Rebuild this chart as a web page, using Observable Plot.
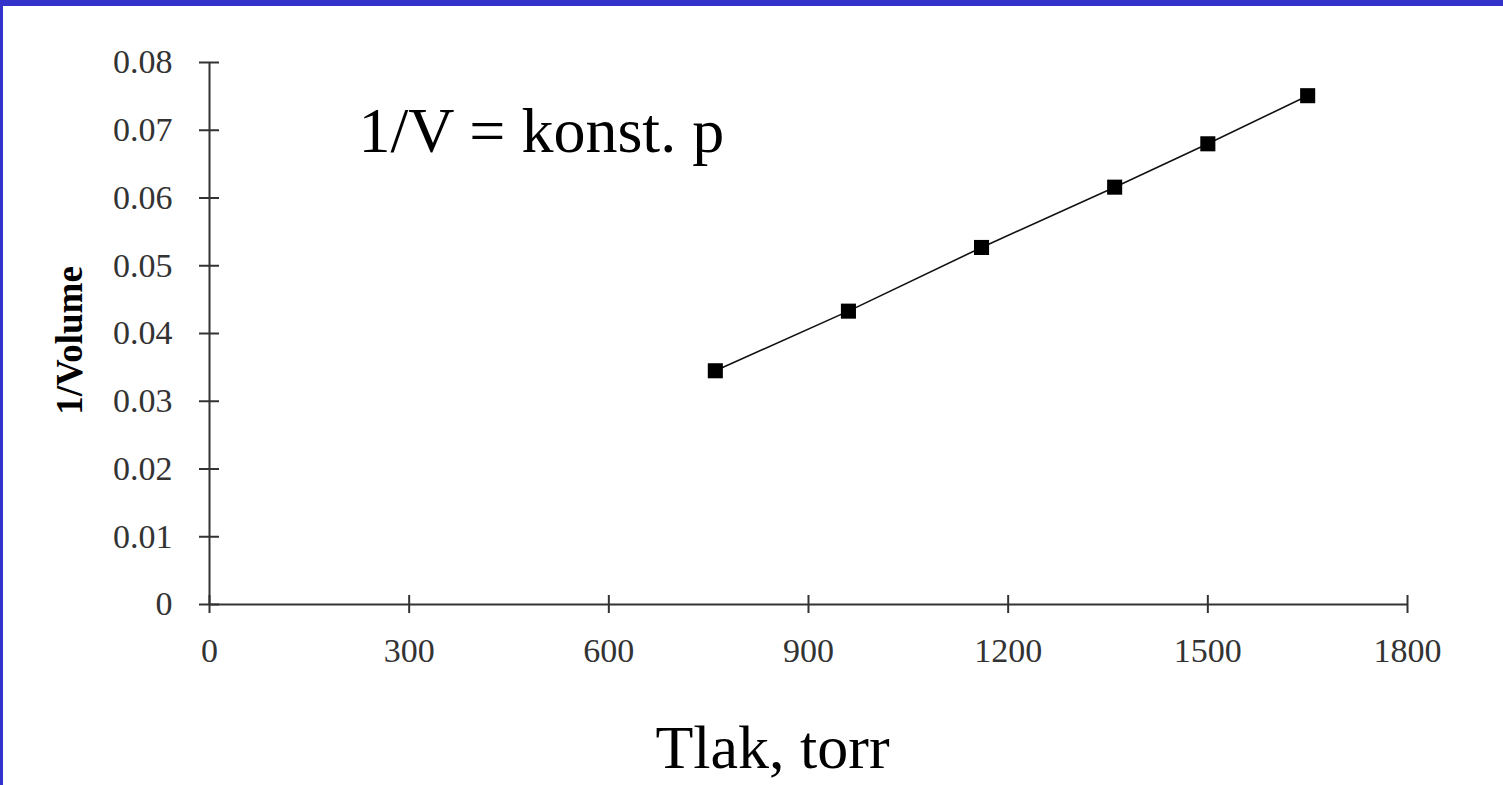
<!DOCTYPE html>
<html>
<head>
<meta charset="utf-8">
<script src="https://cdn.jsdelivr.net/npm/d3@7"></script>
<script src="https://cdn.jsdelivr.net/npm/@observablehq/plot@0.6"></script>
<style>
  html, body { margin: 0; padding: 0; background: #fff; }
  #wrap { position: relative; width: 1503px; height: 785px; overflow: hidden; }
  #topbar { position: absolute; left: 0; top: 0; width: 1503px; height: 6px; background: #3333CC; }
  #leftbar { position: absolute; left: 0; top: 0; width: 3px; height: 785px; background: #3333CC; }
  svg { display: block; }
</style>
</head>
<body>
<div id="wrap">
  <div id="chart"></div>
  <div id="topbar"></div>
  <div id="leftbar"></div>
</div>
<script>
// Data
const pressure = [760, 960, 1160, 1360, 1500, 1650];          // Tlak, torr
const invVolume = [0.0345, 0.0433, 0.0527, 0.0616, 0.0680, 0.0751]; // 1/Volume
const xTicks = [0, 300, 600, 900, 1200, 1500, 1800];
const yTicks = [0, 0.01, 0.02, 0.03, 0.04, 0.05, 0.06, 0.07, 0.08];
const titleText = "1/V = konst. p";
const xLabel = "Tlak, torr";
const yLabel = "1/Volume";

const points = pressure.map((p, i) => ({p, v: invVolume[i]}));
const axisColor = "#333";
const font = "'Liberation Serif', 'Times New Roman', serif";

const chart = Plot.plot({
  width: 1503,
  height: 785,
  marginLeft: 209,
  marginRight: 96,
  marginTop: 62,
  marginBottom: 181,
  style: {fontFamily: font, background: "transparent", overflow: "visible"},
  x: {domain: [0, 1800], axis: null},
  y: {domain: [0, 0.08], axis: null},
  marks: [
    // axis lines
    Plot.ruleY([0], {x1: 0, x2: 1800, stroke: axisColor, strokeWidth: 2}),
    Plot.ruleX([0], {y1: 0, y2: 0.08, stroke: axisColor, strokeWidth: 2}),
    // crossing ticks
    Plot.ruleX(xTicks, {x: d => d, y1: 0, y2: 0, insetTop: -9, insetBottom: -9, stroke: axisColor, strokeWidth: 2}),
    Plot.ruleY(yTicks, {y: d => d, x1: 0, x2: 0, insetLeft: -10, insetRight: -10, stroke: axisColor, strokeWidth: 2}),
    // tick labels
    Plot.text(xTicks, {x: d => d, y: 0, text: d => String(d), lineAnchor: "top", dy: 33, fontSize: 34, fill: "#333"}),
    Plot.text(yTicks, {x: 0, y: d => d, text: d => d === 0 ? "0" : d.toFixed(2), textAnchor: "end", dx: -37, fontSize: 34, fill: "#333"}),
    // data
    Plot.line(points, {x: "p", y: "v", stroke: "#111", strokeWidth: 1.6}),
    Plot.dot(points, {x: "p", y: "v", symbol: "square", r: 8.5, fill: "#000", stroke: "none"}),
    // annotation and labels
    Plot.text([titleText], {frameAnchor: "top-left", text: d => d, textAnchor: "start", lineAnchor: "bottom", dx: 149, dy: 89, fontSize: 64, fill: "#000"}),
    Plot.text([xLabel], {frameAnchor: "bottom", text: d => d, textAnchor: "middle", lineAnchor: "bottom", dx: -36, dy: 163, fontSize: 62, fill: "#000"}),
    Plot.text([yLabel], {frameAnchor: "left", text: d => d, rotate: -90, textAnchor: "middle", dx: -139, dy: 7, fontSize: 37, fontWeight: "bold", fill: "#000"})
  ]
});
document.getElementById("chart").appendChild(chart);
</script>
</body>
</html>
